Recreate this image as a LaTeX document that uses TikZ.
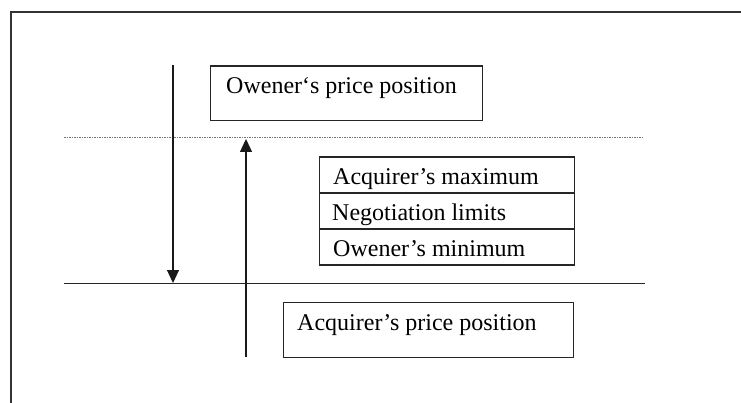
\documentclass[tikz,border=0pt]{standalone}
\usepackage{fontspec}
\setmainfont{Liberation Serif}
\usetikzlibrary{arrows.meta}
\begin{document}
\begin{tikzpicture}[x=1pt,y=-1pt,
  box/.style={draw=black!85, line width=1.2pt, rectangle, inner sep=0pt, anchor=north west},
  lbl/.style={anchor=base west, inner sep=0pt, font=\fontsize{24}{28}\selectfont},
  arr/.style={line width=1.2pt, draw=black!90, -{Triangle[length=13pt,width=12pt]}},
  rule/.style={line width=1.2pt, draw=black!85},
  dotrule/.style={line width=1pt, draw=black!55, dash pattern=on 1.5pt off 1pt}]
\useasboundingbox (0,0) rectangle (741,403);
\fill[white] (0,0) rectangle (741,403);
% frame (only top and left edges visible)
\coordinate (fbl) at (10.7,403);
\coordinate (ftl) at (10.7,12.3);
\coordinate (ftr) at (741,12.3);
\draw[line width=1.6pt, draw=black!80] (fbl) -- (ftl) -- (ftr);
% owner's price position
\node[box, minimum width=272pt, minimum height=54.5pt] (own) at (209.5,65.5) {};
\node[lbl] (ownt) at (226,94) {Owener‘s price position};
% dotted line
\coordinate (dl) at (64,138);
\coordinate (dr) at (643,138);
\draw[dotrule] (dl) -- (dr);
% table
\node[box, minimum width=255pt, minimum height=36pt] (r1) at (318.5,156.5) {};
\node[box, minimum width=255pt, minimum height=36pt] (r2) at (318.5,192.5) {};
\node[box, minimum width=255pt, minimum height=36pt] (r3) at (318.5,228.5) {};
\node[lbl] (r1t) at (333,185) {Acquirer’s maximum};
\node[lbl] (r2t) at (332,221) {Negotiation limits};
\node[lbl] (r3t) at (333,257) {Owener’s minimum};
% solid line
\coordinate (hl) at (64,283.5);
\coordinate (hr) at (645,283.5);
\draw[rule] (hl) -- (hr);
% acquirer's price position
\node[box, minimum width=290pt, minimum height=54.5pt] (acq) at (282.5,302) {};
\node[lbl] (acqt) at (297,330) {Acquirer’s price position};
% arrows
\coordinate (dtop) at (173,65);
\coordinate (dbot) at (173,283);
\draw[arr] (dtop) -- (dbot);
\coordinate (ubot) at (246,357);
\coordinate (utop) at (246,139);
\draw[arr] (ubot) -- (utop);
\end{tikzpicture}
\end{document}
